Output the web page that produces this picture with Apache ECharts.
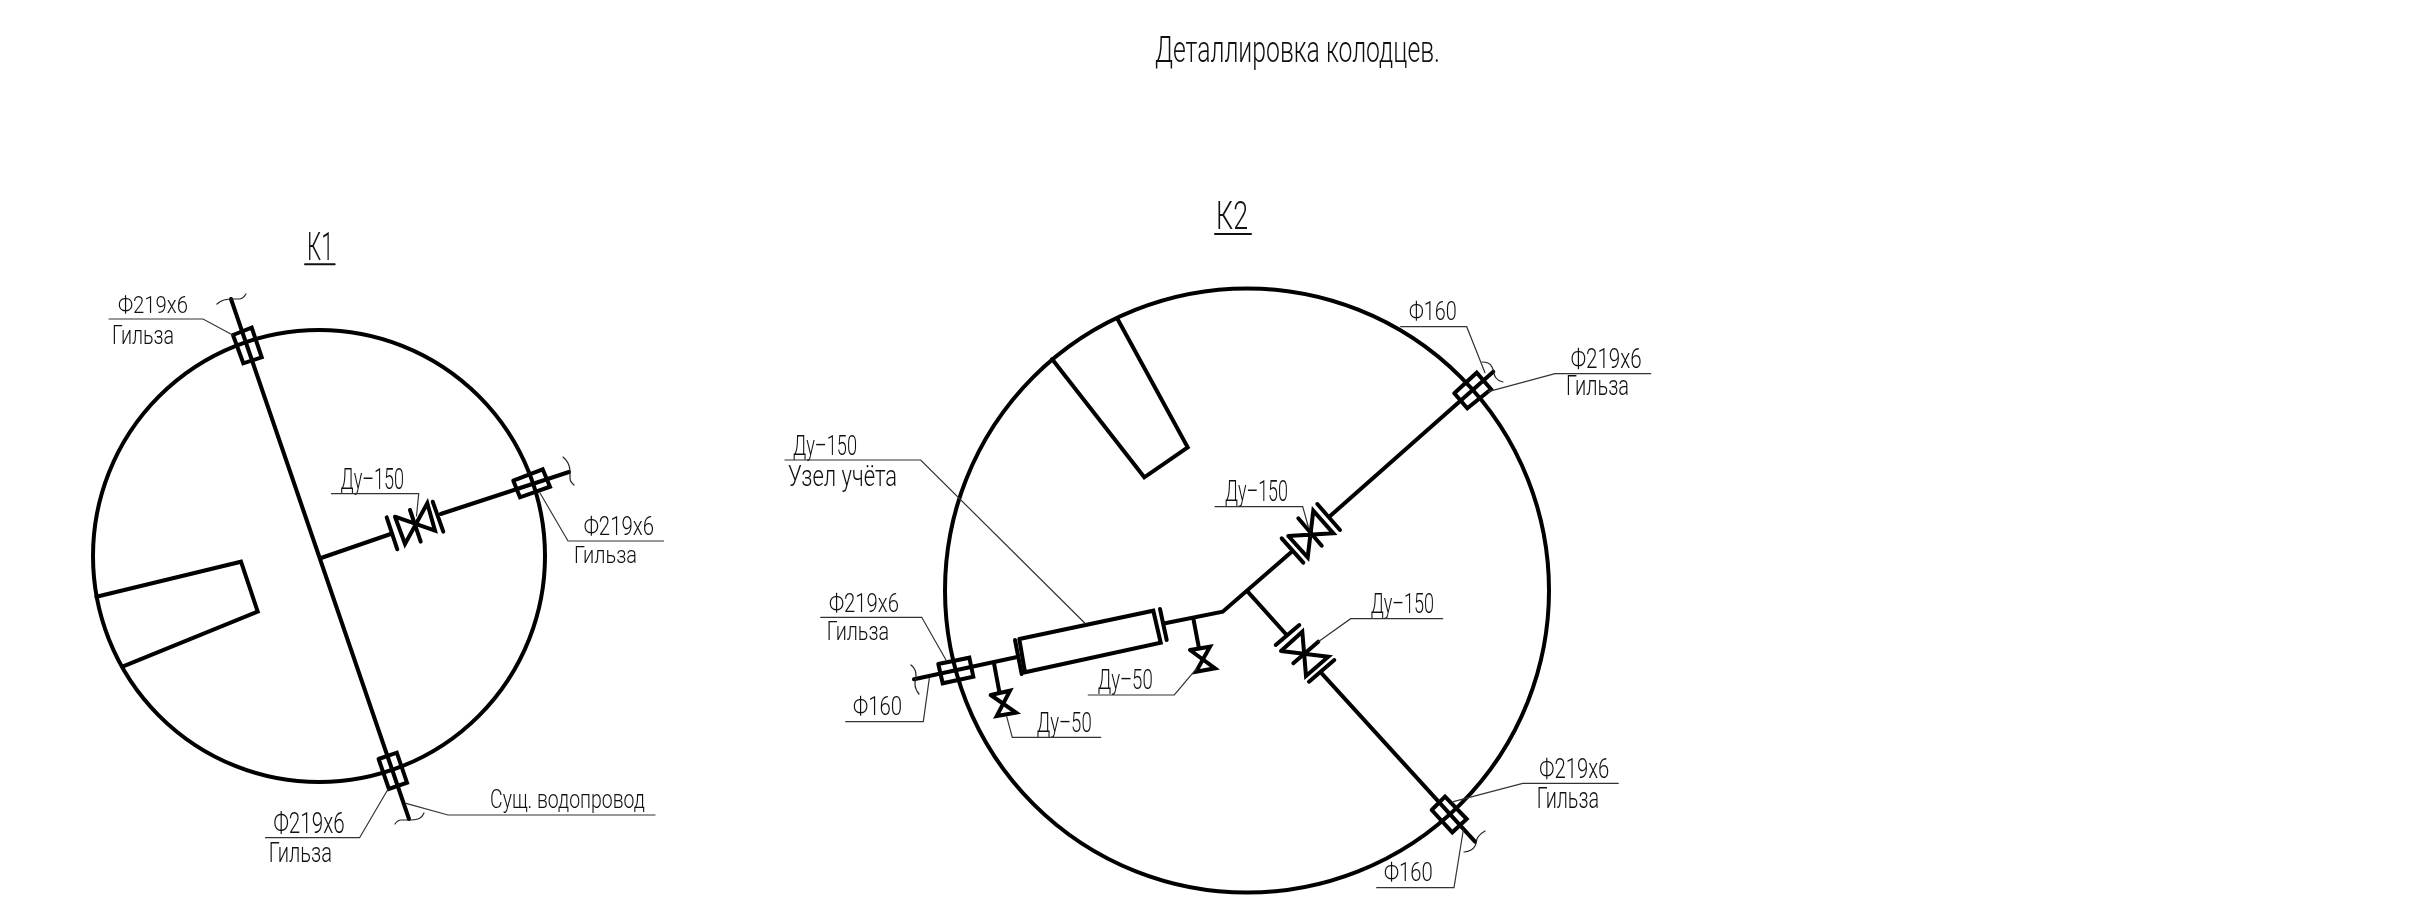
<!DOCTYPE html>
<html><head><meta charset="utf-8">
<style>html,body{margin:0;padding:0;background:#fff}#c{width:2430px;height:921px}</style>
<script src="https://cdn.jsdelivr.net/npm/echarts@6/dist/echarts.min.js"></script>
</head><body><div id="c"></div>
<script>
// Drawing values, in drawing units (x, y)
const wells = [[319,556,226],[1247,590.5,302]];
const pipesK1 = [
 [[231,299],[409,819]],
 [[321,558],[390.7,534]],
 [[440.7,514],[569,472]],
 [[96.4,596.7],[241,561.7],[257.7,611.7],[122.5,666.7]],
 [[233,335],[251.7,327.7],[261.7,357.3],[243.3,363.3],[233,335]],
 [[378.6,759],[396.8,752.7],[407,782.7],[388.9,789],[378.6,759]],
 [[513.3,480.7],[542.7,469.3],[550,486.7],[520,497.3],[513.3,480.7]],
 [[386.7,517.3],[397.3,549.3]],
 [[432.7,501.7],[443.3,531.7]],
 [[395,516.7],[435,530.7],[427.3,503.3],[405,544],[395,516.7]],
 [[410,510],[420.7,541.7]]
];
const pipesK2 = [
 [[914,679.3],[1016,657.3]],
 [[1165,623.3],[1222.7,611.7],[1291.7,551.7]],
 [[1329.3,516.7],[1493.3,371.7]],
 [[1247.7,591.7],[1286.7,635]],
 [[1321.7,673.3],[1475,841.7]],
 [[1052,359],[1144.3,477.3],[1187.7,447.3],[1117,318]],
 [[938.3,664],[969.3,657.7],[973.3,676.7],[942.7,683.3],[938.3,664]],
 [[1454.3,393.3],[1476.7,372.7],[1491,389.3],[1467.3,408.3],[1454.3,393.3]],
 [[1431.7,810],[1445,796.7],[1466.7,819],[1452.3,832.3],[1431.7,810]],
 [[1019.3,639],[1153.3,610.7],[1160.7,642.7],[1025,672.3],[1019.3,639]],
 [[1015,640],[1021.7,674]],
 [[1160,609],[1166.7,640]],
 [[1281.7,538.3],[1303.3,562.7]],
 [[1317.3,504],[1340,530]],
 [[1288.3,536],[1333.3,533.3],[1313.3,510.7],[1307.7,557.3],[1288.3,536]],
 [[1298.3,518.3],[1321.7,545.7]],
 [[1275.7,645],[1299.3,625]],
 [[1309,681.7],[1334.3,660]],
 [[1281,651],[1302.3,631.7],[1306,676],[1328.3,656.7],[1281,651]],
 [[1293.3,663.3],[1318.3,641.7]],
 [[994,663.3],[999.3,691.7]],
 [[990.7,695],[1010,690.7],[996.7,716],[1016,712.7],[990.7,695]],
 [[1193.3,618.3],[1199,648.3]],
 [[1190,650],[1210,646.7],[1196,671.7],[1215,668.3],[1190,650]]
];
const leaders = [
 [[109,319],[203,319],[232.7,335]],
 [[331.5,493.7],[418.7,493.7],[416.5,516]],
 [[663.6,541],[568,541],[540,493]],
 [[265.5,837.7],[359.6,837.7],[388,789.3]],
 [[655,815],[448,815],[406,803.3]],
 [[785,460],[920.7,460],[1085,623.3]],
 [[820.7,617.3],[921.7,617.3],[946,660]],
 [[845.7,721.7],[923.3,721.7],[929.3,678.3]],
 [[1100.7,737.3],[1012.3,737.3],[1006.7,716.7]],
 [[1088.3,695],[1174.3,695],[1196.7,668.3]],
 [[1400.7,326.7],[1466.7,326.7],[1485,372.7]],
 [[1650.7,373.7],[1555,373.7],[1488.3,391.7]],
 [[1215,506.7],[1302.7,506.7],[1308.3,526.7]],
 [[1442.7,618.7],[1350.7,618.7],[1318.3,641.7]],
 [[1618.3,783.3],[1522.7,783.3],[1453.3,801.7]],
 [[1376.7,887.7],[1454,887.7],[1463.3,830]]
];
const breakLines = [
 [[217,304],[224,300],[232,299],[239,299],[246,294]],
 [[563,457],[568,463],[570,471],[570,478],[574,485]],
 [[395,824],[401,820],[410,820],[418,819],[424,813]],
 [[911,665],[915,670],[916,675],[915,684],[919,694]],
 [[1482,362],[1488,363],[1492,367],[1496,378],[1503,382]],
 [[1464,852],[1471,850],[1475,846],[1478,837],[1485,831]]
];
const underlines = [
 [[305,264.3],[334.7,264.3]],
 [[1215,234],[1251,234]]
];
// text, left, right, cap top, baseline
const labels = [
 ['Деталлировка колодцев.',1155,1440,38,62],
 ['К1',307,333.5,235,260],
 ['К2',1216,1248,204,229],
 ['Ф219х6',118,188,297,313],
 ['Гильза',112,174,327,344],
 ['Ду–150',340.6,404,470,489],
 ['Ф219х6',583.7,654,518,535],
 ['Гильза',574,637,547,563],
 ['Ф219х6',273.5,344.6,814,833],
 ['Гильза',268.7,332,844,862],
 ['Сущ. водопровод',490,645,791,808],
 ['Ду–150',793,857,437,455],
 ['Узел учёта',788,897,467,486],
 ['Ф219х6',829,899,595,612],
 ['Гильза',826.7,889,623,640],
 ['Ф160',853,902,698,715],
 ['Ду–50',1036.7,1091.7,714,732],
 ['Ду–50',1097.7,1152.7,671,689],
 ['Ф160',1409,1456.7,303,320],
 ['Ф219х6',1570.7,1641.7,350,368],
 ['Гильза',1566,1629,377,395],
 ['Ду–150',1225,1288,482,501],
 ['Ду–150',1370.7,1434,595,613],
 ['Ф219х6',1539.3,1609.3,760,778],
 ['Гильза',1536.7,1599,789,808],
 ['Ф160',1384,1432.7,864,881]
];

const INK = '#000';
const ctx = document.createElement('canvas').getContext('2d');
const lineSeries = (pts, width, color, smooth) => ({
  type:'line', data:pts, symbol:'none', smooth:!!smooth, silent:true, clip:false, animation:false,
  lineStyle:{width, color, cap:'round', join:'miter'}
});
const series = [];
series.push({
  type:'custom', data:wells, silent:true, animation:false, clip:false,
  encode:{x:0,y:1},
  renderItem(p, api){
    const c = api.coord([api.value(0), api.value(1)]);
    const r = api.size([api.value(2), 0])[0];
    return {type:'circle', shape:{cx:c[0], cy:c[1], r}, style:{fill:'none', stroke:INK, lineWidth:4}};
  }
});
pipesK1.concat(pipesK2).forEach(p => series.push(lineSeries(p, 4, INK)));
underlines.forEach(p => series.push(lineSeries(p, 2, '#111')));
leaders.forEach(p => series.push(lineSeries(p, 1.2, '#333')));
breakLines.forEach(p => series.push(lineSeries(p, 1.2, '#222', true)));
series.push({
  type:'custom', data:labels.map(l => [l[1], l[3]]), silent:true, animation:false, clip:false,
  encode:{x:0,y:1},
  renderItem(p, api){
    const l = labels[p.dataIndex];
    const fs = (l[4]-l[3]) / 0.71 * 1.08;
    const a = api.coord([l[1], (l[3]+l[4])/2 + fs*0.09]);
    const b = api.coord([l[2], l[4]]);
    const font = '300 ' + fs + 'px Roboto, "Noto Sans", sans-serif';
    ctx.font = font;
    const w = ctx.measureText(l[0]).width;
    return {type:'text', x:a[0], y:a[1], scaleX:(b[0]-a[0])/w, style:{text:l[0], font, fill:'#111', align:'left', verticalAlign:'middle'}};
  }
});
const chart = echarts.init(document.getElementById('c'), null, {renderer:'canvas'});
chart.setOption({
  animation:false, backgroundColor:'#fff', tooltip:{show:false}, legend:{show:false},
  grid:{left:0,right:0,top:0,bottom:0},
  xAxis:{type:'value',min:0,max:2430,show:false},
  yAxis:{type:'value',min:0,max:921,inverse:true,show:false},
  series
});
</script></body></html>
